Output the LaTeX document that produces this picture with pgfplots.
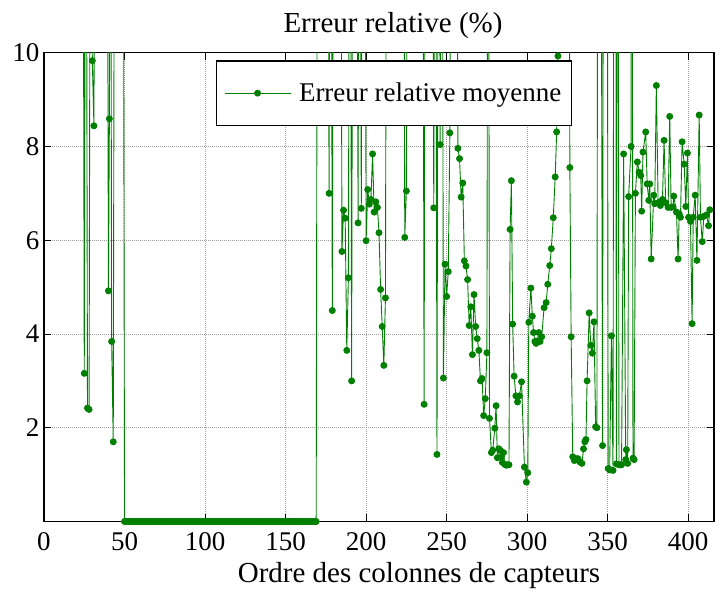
\documentclass[border=0pt]{standalone}
\usepackage{fontspec}
\setmainfont{Liberation Serif}
\usepackage{pgfplots}
\pgfplotsset{compat=1.18}
\definecolor{dgreen}{RGB}{0,128,0}
\newcommand{\bigf}{\fontsize{27bp}{30bp}\selectfont}
\newcommand{\labf}{\fontsize{29bp}{32bp}\selectfont}
\begin{document}
\begin{tikzpicture}
\begin{axis}[name=ax, scale only axis, width=670bp, height=468.8bp,
  xmin=0, xmax=416, ymin=0, ymax=10,
  xtick={0,50,...,400}, ytick={0,2,...,10}, yticklabels={,2,4,6,8,10},
  tick align=inside, major tick length=7bp,
  every tick/.style={black, line width=0.8bp},
  grid=major, major grid style={gray!75, dash pattern=on 1bp off 1bp, line width=0.6bp},
  axis line style={line width=1.2bp},
  tick label style={font=\bigf}, /pgf/number format/assume math mode=true,
  xticklabel style={inner sep=0pt, anchor=north, yshift=-11bp},
  yticklabel style={inner sep=0pt, anchor=east, xshift=-4.5bp},
  xlabel={Ordre des colonnes de capteurs},
  xlabel style={font=\labf, at={(0.5,0)}, anchor=north, inner sep=0pt, yshift=-41bp, xshift=40bp},
  title={Erreur relative (\%)},
  title style={font=\labf, at={(0.5,1)}, anchor=south, inner sep=0pt, yshift=8bp, xshift=14bp},
  legend style={at={(0.256,0.9835)}, anchor=north west, draw=black, line width=1.2bp, fill=white, font=\bigf, inner xsep=8bp, inner ysep=20bp},
  legend image code/.code={\draw[#1,line width=0.9bp,mark repeat=2,mark phase=2] plot coordinates {(0bp,0bp) (33bp,0bp) (66bp,0bp)}; \path (72bp,0bp);},
]
\addplot[dgreen, line width=0.9bp, mark=*, mark size=3bp, mark options={fill=dgreen, draw=dgreen}] coordinates {
(1,20) (24,20) (25,3.16) (26,20) (27,2.42) (28,2.39) (29,20) (30,9.83) (31,8.44) (32,20) (39,20) (40,4.92) (40.6,8.59) (41.2,20) (42,3.84) (43,1.70) (44,20) (49,20)
(50,0) (51,0) (52,0) (53,0) (54,0) (55,0) (56,0) (57,0) (58,0) (59,0)
(60,0) (61,0) (62,0) (63,0) (64,0) (65,0) (66,0) (67,0) (68,0) (69,0)
(70,0) (71,0) (72,0) (73,0) (74,0) (75,0) (76,0) (77,0) (78,0) (79,0)
(80,0) (81,0) (82,0) (83,0) (84,0) (85,0) (86,0) (87,0) (88,0) (89,0)
(90,0) (91,0) (92,0) (93,0) (94,0) (95,0) (96,0) (97,0) (98,0) (99,0)
(100,0) (101,0) (102,0) (103,0) (104,0) (105,0) (106,0) (107,0) (108,0) (109,0)
(110,0) (111,0) (112,0) (113,0) (114,0) (115,0) (116,0) (117,0) (118,0) (119,0)
(120,0) (121,0) (122,0) (123,0) (124,0) (125,0) (126,0) (127,0) (128,0) (129,0)
(130,0) (131,0) (132,0) (133,0) (134,0) (135,0) (136,0) (137,0) (138,0) (139,0)
(140,0) (141,0) (142,0) (143,0) (144,0) (145,0) (146,0) (147,0) (148,0) (149,0)
(150,0) (151,0) (152,0) (153,0) (154,0) (155,0) (156,0) (157,0) (158,0) (159,0)
(160,0) (161,0) (162,0) (163,0) (164,0) (165,0) (166,0) (167,0) (168,0) (169,0)
(170,20) (176,20) (177,7.0) (178,20) (179,4.5) (180,20) (184,20) (185,5.76) (186,6.64) (187,6.47) (188,3.65) (189,5.2) (190,20) (191,3.0) (192,20) (194,20) (195,6.37) (196,20) (197,6.68) (198,20) (199,20)
(200,5.99) (201,7.08) (202,6.77) (203,6.87) (204,7.84) (205,6.6) (206,6.82) (207,6.7) (208,6.16) (209,4.95) (210,4.16) (211,3.33) (212,4.77) (213,20) (223,20) (224,6.06) (225,7.05) (226,20) (235,20) (236,2.5) (237,20) (241,20) (242,6.69) (243,20) (244,1.43) (245,20) (246,8.04) (247,20) (248,3.06) (249,5.49)
(250,4.8) (251,5.33) (252,8.29) (253,20) (256,20) (257,7.96) (258,7.74) (259,6.92) (260,7.22) (261,5.56) (262,5.45) (263,5.16) (264,4.18) (265,4.58) (266,3.56) (267,4.84) (268,4.16) (269,3.9) (270,3.65) (271,3.0) (272,3.05) (273,2.26) (274,2.62) (275,3.6) (275.8,20) (276.6,2.2) (277.8,1.47) (278.6,1.52) (279.9,1.99) (280.7,2.47) (281.5,1.36) (282.4,1.55) (283.2,1.52) (284,1.38) (284.6,1.26) (285.3,1.47) (286.1,1.22) (287,1.2) (287.8,1.21) (288.7,1.21) (289.4,6.23) (290.2,7.27) (291,4.21) (291.9,3.1) (293,2.68) (294,2.55) (295.2,2.68) (296.5,2.98) (298.3,1.16) (299.5,0.84)
(300.4,1.04) (301,4.25) (302.3,4.98) (303.2,4.38) (304,4.03) (304.8,3.84) (305.5,3.8) (306.3,3.85) (307.2,4.03) (308,3.84) (309,3.94) (310.5,4.56) (311.8,4.67) (312.8,5.06) (314,5.46) (315,5.82) (316.2,6.48) (317.4,7.35) (318.3,8.31) (319.1,9.93) (320,20) (325.6,20) (326.5,7.55) (327.3,3.94) (328.3,1.38) (329.3,1.30) (330.3,1.34) (331.5,1.34) (332.8,1.27) (334,1.24) (335,1.55) (335.8,1.7) (336.5,1.75) (337.2,3.0) (338.5,4.45) (339.5,3.76) (340.5,3.59) (341.5,4.26) (342.5,2.02) (343.3,2.0) (344,20) (345.5,20) (346.8,1.62) (347.5,20) (349.5,20)
(350.3,1.13) (351.2,1.1) (352.3,3.96) (353.3,1.09) (354,20) (354.8,20) (355.4,1.23) (356.2,20) (357,1.21) (357.8,1.21) (358.6,1.21) (359.9,7.84) (361.2,1.32) (361.6,1.53) (362.4,1.24) (363,6.93) (364.5,8.0) (365,20) (365.7,1.35) (366.4,1.32) (367.2,7.0) (368.4,7.67) (369.5,7.45) (370.5,7.38) (371.1,6.62) (371.9,7.88) (373.6,8.31) (374.5,7.2) (375.5,6.85) (376.1,7.2) (377,5.6) (378.6,6.96) (379.2,6.78) (380.2,9.3) (381.3,6.8) (382.7,6.74) (384,6.87) (385,8.13) (386,6.8) (387.5,6.7) (388.5,8.64) (389.4,6.7) (390.6,6.71) (391,6.94) (392.7,6.6) (393.7,5.6) (394.4,6.56) (395.2,6.49) (396.2,8.1) (397.5,7.62) (398.5,6.72) (399.5,7.86)
(400.2,6.49) (401.4,6.4) (402.4,4.22) (403.1,6.49) (404.3,6.96) (405.4,5.57) (406.8,8.67) (407.6,6.49) (408.7,5.97) (409.7,6.51) (411.4,6.54) (412.6,6.31) (413.4,6.65)
};
\addlegendentry{Erreur relative moyenne}
\end{axis}
\pgfresetboundingbox
\useasboundingbox ([xshift=-44bp,yshift=-73.5bp]ax.south west) rectangle ([xshift=1bp,yshift=52.7bp]ax.north east);
\end{tikzpicture}
\end{document}
